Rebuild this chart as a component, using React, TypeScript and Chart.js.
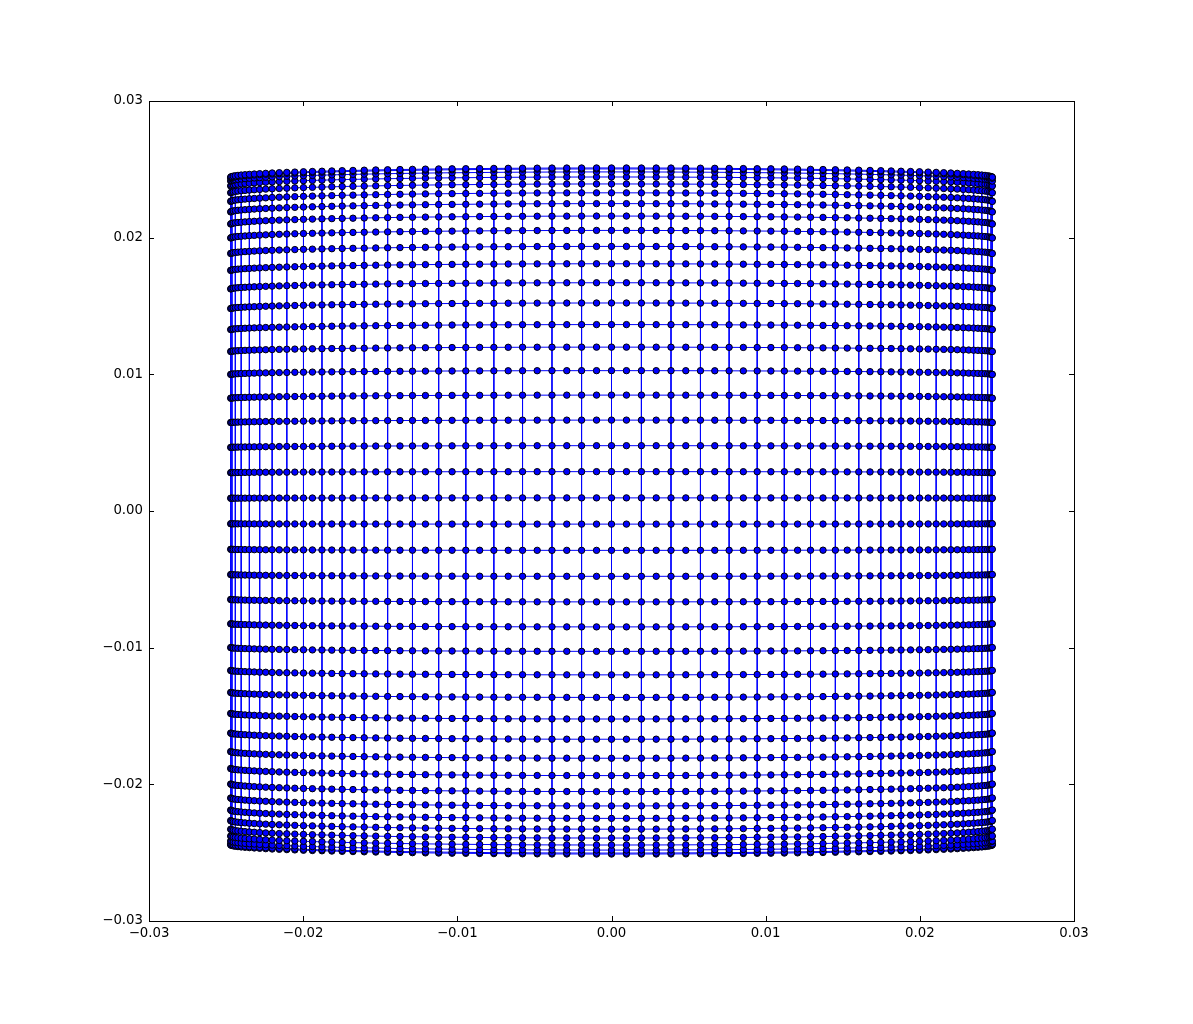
import React, { useEffect, useRef } from "react";
import { Chart, registerables } from "chart.js";

Chart.register(...registerables);

// x position of every column of nodes (left to right)
const columnX = [
  -0.0247, -0.02468, -0.02462, -0.02453, -0.0244, -0.02423, -0.02402, -0.02377, -0.02349, -0.02317,
  -0.02282, -0.02243, -0.02201, -0.02155, -0.02106, -0.02054, -0.01998, -0.0194, -0.01878, -0.01814,
  -0.01747, -0.01677, -0.01604, -0.01529, -0.01452, -0.01372, -0.01291, -0.01207, -0.01121, -0.01034,
  -0.00945, -0.00855, -0.00763, -0.0067, -0.00577, -0.00482, -0.00386, -0.0029, -0.00194, -0.00097,
  0,
  0.00097, 0.00194, 0.0029, 0.00386, 0.00482, 0.00577, 0.0067, 0.00763, 0.00855, 0.00945,
  0.01034, 0.01121, 0.01207, 0.01291, 0.01372, 0.01452, 0.01529, 0.01604, 0.01677, 0.01747,
  0.01814, 0.01878, 0.0194, 0.01998, 0.02054, 0.02106, 0.02155, 0.02201, 0.02243, 0.02282,
  0.02317, 0.02349, 0.02377, 0.02402, 0.02423, 0.0244, 0.02453, 0.02462, 0.02468, 0.0247,
];

// vertical shrink of the rows at each column (rows bend toward the centre at the sides)
const columnScale = [
  0.973, 0.9741, 0.9751, 0.9762, 0.9772, 0.9783, 0.9793, 0.9803, 0.9813, 0.9823,
  0.9833, 0.9843, 0.9853, 0.9862, 0.9871, 0.988, 0.9889, 0.9897, 0.9905, 0.9913,
  0.9921, 0.9928, 0.9935, 0.9942, 0.9948, 0.9955, 0.996, 0.9966, 0.9971, 0.9975,
  0.9979, 0.9983, 0.9987, 0.999, 0.9993, 0.9995, 0.9997, 0.9998, 0.9999, 1.0,
  1.0,
  1.0, 0.9999, 0.9998, 0.9997, 0.9995, 0.9993, 0.999, 0.9987, 0.9983, 0.9979,
  0.9975, 0.9971, 0.9966, 0.996, 0.9955, 0.9948, 0.9942, 0.9935, 0.9928, 0.9921,
  0.9913, 0.9905, 0.9897, 0.9889, 0.988, 0.9871, 0.9862, 0.9853, 0.9843, 0.9833,
  0.9823, 0.9813, 0.9803, 0.9793, 0.9783, 0.9772, 0.9762, 0.9751, 0.9741, 0.973,
];

// y position of every row at the centre column (top to bottom)
const rowY = [
  0.0251, 0.02503, 0.02481, 0.02444, 0.02393, 0.02328, 0.02249, 0.02158, 0.02053, 0.01936,
  0.01809, 0.0167, 0.01522, 0.01364, 0.01199, 0.01027, 0.00848, 0.00665, 0.00478, 0.00288,
  0.00096,
  -0.00096,
  -0.00288, -0.00478, -0.00665, -0.00848, -0.01027, -0.01199, -0.01364, -0.01522, -0.0167, -0.01809,
  -0.01936, -0.02053, -0.02158, -0.02249, -0.02328, -0.02393, -0.02444, -0.02481, -0.02503, -0.0251,
];

const axisTicks = [-0.03, -0.02, -0.01, 0, 0.01, 0.02, 0.03];

const fmt = (v: number) => {
  if (Math.abs(v) < 1e-9) return "0.00";
  const s = Math.abs(v).toFixed(2);
  return v < 0 ? "\u2212" + s : s;
};

const frameTicks = {
  id: "frameTicks",
  afterDraw(chart: any) {
    const { ctx, chartArea } = chart;
    const { left, right, top, bottom } = chartArea;
    const xs = chart.scales.x;
    const ys = chart.scales.y;
    ctx.save();
    ctx.strokeStyle = "#000";
    ctx.lineWidth = 1;
    ctx.strokeRect(Math.round(left) + 0.5, Math.round(top) + 0.5, Math.round(right - left), Math.round(bottom - top));
    const L = 5;
    ctx.beginPath();
    for (const t of xs.ticks) {
      const px = Math.round(xs.getPixelForValue(t.value)) + 0.5;
      ctx.moveTo(px, bottom);
      ctx.lineTo(px, bottom - L);
      ctx.moveTo(px, top);
      ctx.lineTo(px, top + L);
    }
    for (const t of ys.ticks) {
      const py = Math.round(ys.getPixelForValue(t.value)) + 0.5;
      ctx.moveTo(left, py);
      ctx.lineTo(left + L, py);
      ctx.moveTo(right, py);
      ctx.lineTo(right - L, py);
    }
    ctx.stroke();
    ctx.restore();
  },
};

export default function App() {
  const ref = useRef<HTMLCanvasElement | null>(null);

  useEffect(() => {
    if (!ref.current) return;

    const rowSets = rowY.map((yv) => ({
      data: columnX.map((xv, i) => ({ x: xv, y: yv * columnScale[i] })),
      showLine: true,
      borderColor: "#0000ff",
      borderWidth: 1,
      pointRadius: 3.2,
      pointBackgroundColor: "#0000ff",
      pointBorderColor: "#000000",
      pointBorderWidth: 1,
      order: 0,
    }));

    const colSets = columnX
      .map((_, i) => i)
      .filter((i) => i % 2 === 0)
      .map((i) => ({
        data: rowY.map((yv) => ({ x: columnX[i], y: yv * columnScale[i] })),
        showLine: true,
        borderColor: "#0000ff",
        borderWidth: 1,
        pointRadius: 0,
        order: 1,
      }));

    const tickFont = { family: "DejaVu Sans", size: 13.3 };

    const chart = new Chart(ref.current, {
      type: "scatter",
      data: { datasets: [...rowSets, ...colSets] as any },
      options: {
        animation: false,
        responsive: false,
        devicePixelRatio: 1,
        events: [],
        layout: { padding: { left: 0, right: 119, top: 101, bottom: 0 } },
        plugins: { legend: { display: false }, tooltip: { enabled: false } },
        scales: {
          x: {
            type: "linear",
            min: -0.03,
            max: 0.03,
            afterBuildTicks: (s: any) => {
              s.ticks = axisTicks.map((v) => ({ value: v }));
            },
            afterFit: (s: any) => {
              s.height = 103;
            },
            grid: { display: false, drawTicks: false },
            border: { display: false },
            ticks: {
              color: "#000",
              font: tickFont,
              padding: 5,
              maxRotation: 0,
              autoSkip: false,
              callback: (v: any) => fmt(Number(v)),
            },
          },
          y: {
            type: "linear",
            min: -0.03,
            max: 0.03,
            afterBuildTicks: (s: any) => {
              s.ticks = axisTicks.map((v) => ({ value: v }));
            },
            afterFit: (s: any) => {
              s.width = 149;
            },
            grid: { display: false, drawTicks: false },
            border: { display: false },
            ticks: {
              color: "#000",
              font: tickFont,
              padding: 6,
              autoSkip: false,
              callback: (v: any) => fmt(Number(v)),
            },
          },
        },
      } as any,
      plugins: [frameTicks],
    });

    return () => chart.destroy();
  }, []);

  return (
    <div style={{ position: "absolute", left: 0, top: 0, width: 1193, height: 1024, background: "#fff" }}>
      <canvas ref={ref} width={1193} height={1024} style={{ display: "block" }} />
    </div>
  );
}
